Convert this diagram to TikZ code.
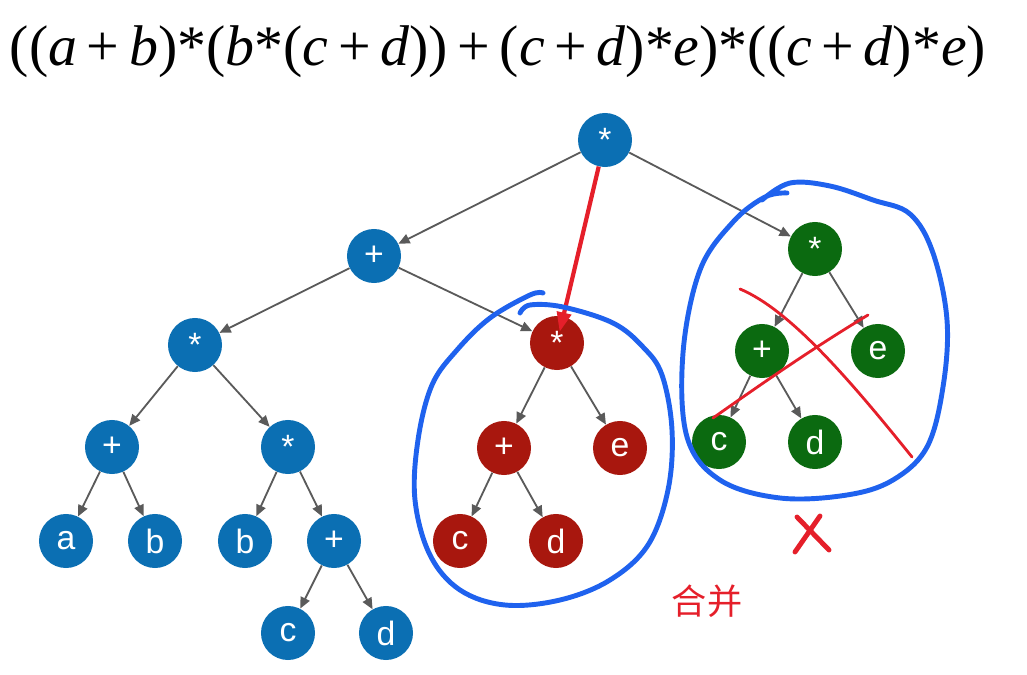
\documentclass[tikz,border=0pt]{standalone}
\usepackage{fontspec}
\setmainfont{Liberation Serif}
\newfontfamily\labelfont{Liberation Sans}
\newfontfamily\cjkfont{Noto Sans CJK SC}
\usepackage{graphicx}
\usepackage{xcolor}
\definecolor{treeBlue}{HTML}{0B6FB3}
\definecolor{treeRed}{HTML}{A8170E}
\definecolor{treeGreen}{HTML}{0B6A10}
\definecolor{edgeGray}{HTML}{5A5A5A}
\definecolor{penBlue}{HTML}{1F62EE}
\definecolor{penRed}{HTML}{E51F2A}
\usetikzlibrary{arrows.meta, calc}

\begin{document}
\begin{tikzpicture}[x=0.025cm, y=-0.025cm,
  opnode/.style={circle, minimum size=1.35cm, inner sep=0pt, text=white,
    font=\labelfont\fontsize{24}{26}\selectfont},
  bnode/.style={opnode, fill=treeBlue},
  rnode/.style={opnode, fill=treeRed},
  gnode/.style={opnode, fill=treeGreen},
  edge/.style={-{Triangle[length=8pt, width=7pt]}, line width=1.3pt, draw=edgeGray},
  pen/.style={line width=3.5pt, line cap=round, line join=round, penBlue},
  cross/.style={line width=2pt, line cap=round, penRed},
  penarr/.style={-{Triangle[length=14pt, width=10pt]}, line width=3pt, penRed}]

  \useasboundingbox (0,0) rectangle (1027,675);

  % Expression
  \node (expr) at (498,52) {\resizebox*{24.4cm}{1.3cm}{%
    ((\textit{a}\,+\,\textit{b})*(\textit{b}*(\textit{c}\,+\,\textit{d}))\,+\,(\textit{c}\,+\,\textit{d})*\textit{e})*((\textit{c}\,+\,\textit{d})*\textit{e})}};

  % Full tree
  \node[bnode] (root) at (605,140) {*};
  \node[bnode] (plus) at (374,256) {+};
  \node[bnode] (mulL) at (195,345) {*};
  \node[bnode] (plusA) at (112,447) {+};
  \node[bnode] (mulB) at (288,447) {*};
  \node[bnode] (a) at (66,541) {a};
  \node[bnode] (b1) at (155,541) {b};
  \node[bnode] (b2) at (245,541) {b};
  \node[bnode] (plusC) at (334,541) {+};
  \node[bnode] (c1) at (288,633) {c};
  \node[bnode] (d1) at (386,633) {d};

  % Shared subtree
  \node[rnode] (rmul) at (557,343) {*};
  \node[rnode] (rplus) at (504,448) {+};
  \node[rnode] (re) at (620,448) {e};
  \node[rnode] (rc) at (460,541) {c};
  \node[rnode] (rd) at (556,541) {d};

  % Duplicate subtree
  \node[gnode] (gmul) at (815,249) {*};
  \node[gnode] (gplus) at (762,351) {+};
  \node[gnode] (ge) at (878,351) {e};
  \node[gnode] (gc) at (719,442) {c};
  \node[gnode] (gd) at (815,442) {d};

  \foreach \from/\to in {root/plus, root/gmul, plus/mulL, plus/rmul,
      mulL/plusA, mulL/mulB, plusA/a, plusA/b1, mulB/b2, mulB/plusC,
      plusC/c1, plusC/d1, rmul/rplus, rmul/re, rplus/rc, rplus/rd,
      gmul/gplus, gmul/ge, gplus/gc, gplus/gd}
    \draw[edge] (\from) -- (\to);

  % Hand annotations
  \draw[penarr, shorten >=-0.4cm] (root) -- (rmul);
  \draw[pen] plot[smooth, tension=0.6] coordinates {(520,313) (530,305) (563,307)
    (613,323) (643,347) (662,375) (672,430) (668,490) (648,545) (610,580)
    (560,600) (505,605) (460,590) (430,555) (415,500) (418,440) (432,385)
    (457,350) (490,318) (530,295) (543,293)};
  \draw[pen] plot[smooth, tension=0.6] coordinates {(762,200) (790,183) (830,186)
    (873,200) (910,214) (933,253) (947,320) (943,387) (927,447) (893,480)
    (847,495) (780,498) (720,480) (687,437) (683,353) (700,270) (733,222)
    (765,197) (787,193)};
  \draw[cross] (740,289) .. controls (790,310) and (850,380) .. (912,457);
  \draw[cross] (868,315) .. controls (810,350) and (760,385) .. (713,418);
  \draw[cross, line width=3.5pt] (795,552) -- (820,516);
  \draw[cross, line width=3.5pt] (797,517) -- (829,550);
  \node[text=penRed, font=\cjkfont\fontsize{25}{27}\selectfont] (merge) at (707,601) {合并};
\end{tikzpicture}
\end{document}
